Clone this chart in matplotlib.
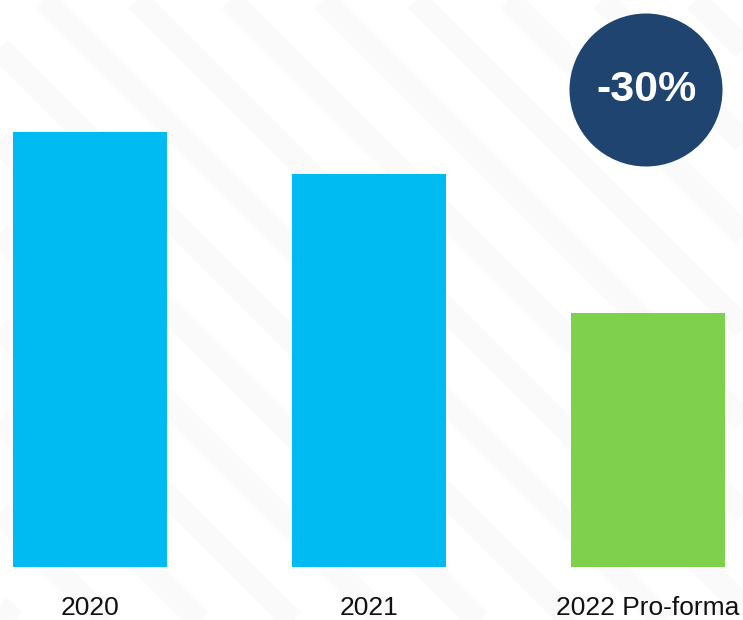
import numpy as np
import matplotlib
matplotlib.use('Agg')
import matplotlib.pyplot as plt
from matplotlib.patches import Circle

plt.rcParams['font.family'] = ['Liberation Sans', 'DejaVu Sans']

# -----------------------------------------------------------------------------
# data (relative heights, no value axis shown in the original)
categories = ['2020', '2021', '2022 Pro-forma']
values = [435, 393, 254]
bar_colors = ['#00BBF1', '#00BBF1', '#7FD04C']
badge_text = '-30%'

# -----------------------------------------------------------------------------

fig = plt.figure(figsize=(7.43, 6.2), dpi=100)
fig.patch.set_facecolor('white')

# very faint diagonal stripes in the background
bg = fig.add_axes([0, 0, 1, 1], zorder=0)
bg.set_xlim(0, 743)
bg.set_ylim(620, 0)
bg.axis('off')
for x0 in np.arange(-700, 800, 93):
    bg.plot([x0, x0 + 700], [0, 700], color='#fafafa', lw=17,
            solid_capstyle='butt', zorder=0)

ax = fig.add_axes([0, 53 / 620, 1, 567 / 620], zorder=1)
ax.patch.set_alpha(0)
x = np.arange(len(categories))
ax.bar(x, values, width=0.552, color=bar_colors)
ax.set_xlim(-90 / 279, 2 + 95 / 279)
ax.set_ylim(0, 567)
ax.set_yticks([])
ax.set_xticks(x)
ax.set_xticklabels(categories, fontsize=19, color='#111111')
ax.tick_params(axis='x', length=0, pad=21)
ax.get_xticklabels()[0].set_x(-0.045)
for s in ax.spines.values():
    s.set_visible(False)

# badge circle top right
badge = Circle((6.46, 5.30), 0.765, transform=fig.dpi_scale_trans,
               facecolor='#1F446F', edgecolor='none', zorder=5)
fig.patches.append(badge)
fig.text(6.46 / 7.43, 5.30 / 6.2, badge_text, color='white', fontsize=31,
         fontweight='bold', ha='center', va='center', zorder=6)

fig.savefig('out.png', dpi=100, facecolor='white')
